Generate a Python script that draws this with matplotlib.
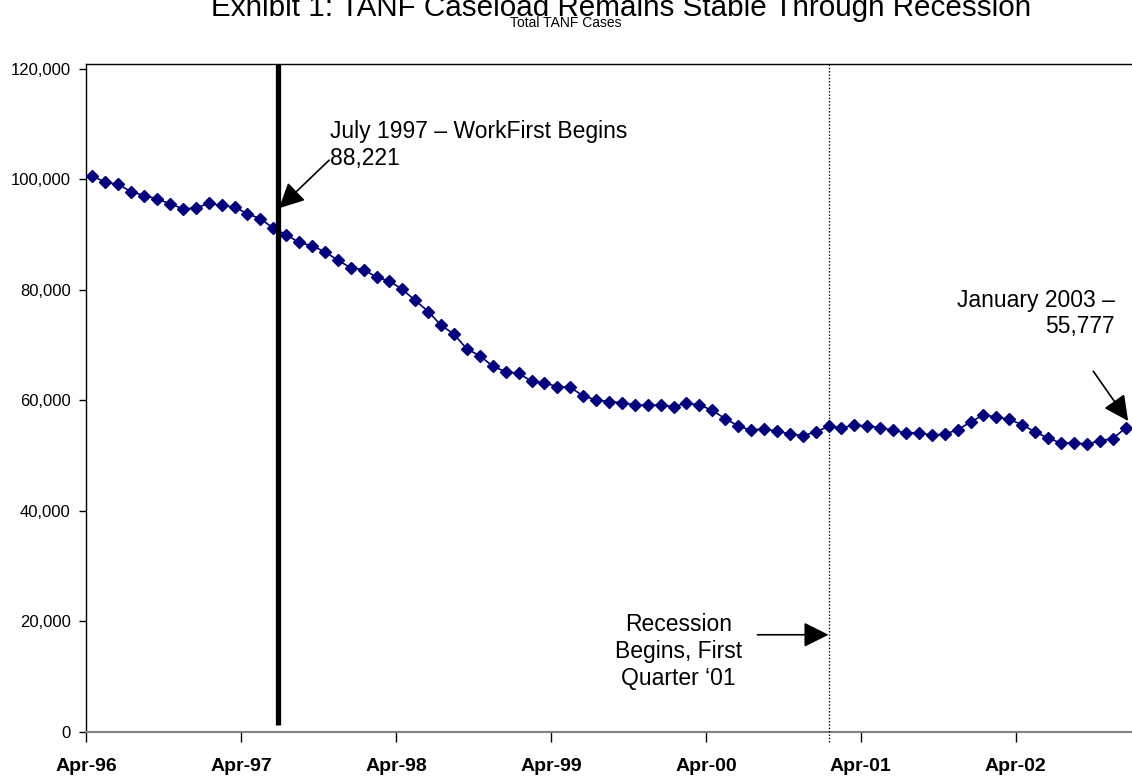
import numpy as np
import matplotlib.pyplot as plt
from matplotlib.ticker import FuncFormatter

plt.rcParams['font.family'] = ['Liberation Sans', 'DejaVu Sans']

# monthly TANF cases, Apr-96 .. Dec-02
cases = [
    100600, 99500, 99100, 97800, 97100, 96500, 95600, 94700, 94800, 95700,
    95300, 95000, 93800, 92900, 91200, 90000, 88600, 88000, 86900, 85400,
    84000, 83700, 82300, 81600, 80100, 78100, 76100, 73600, 72000, 69300,
    68100, 66200, 65200, 64900, 63500, 63200, 62500, 62400, 60800, 60100,
    59800, 59600, 59200, 59100, 59200, 58900, 59500, 59200, 58200, 56700,
    55400, 54600, 54900, 54400, 54000, 53600, 54300, 55300, 55100, 55500,
    55400, 55100, 54600, 54100, 54200, 53700, 53900, 54700, 56100, 57400,
    57000, 56600, 55600, 54300, 53200, 52300, 52300, 52100, 52700, 53100,
    55000,
]
tick_labels = ['Apr-96', 'Apr-97', 'Apr-98', 'Apr-99', 'Apr-00', 'Apr-01', 'Apr-02']
y_ticks = [0, 20000, 40000, 60000, 80000, 100000, 120000]

workfirst_pos = 14.33   # July 1997
recession_pos = 57      # first quarter 2001

x = np.arange(len(cases))

fig = plt.figure(figsize=(11.32, 7.77), dpi=100)
ax = fig.add_axes([86 / 1132, 1 - 732 / 777, 1 - 86 / 1132, (732 - 64) / 777])

ax.plot(x, cases, color='#000080', lw=1.2, marker='D', markersize=6,
        markerfacecolor='#000080', markeredgecolor='#000080', zorder=3)

ax.set_xlim(-0.5, len(cases) - 0.5)
ax.set_ylim(0, 120900)

ax.set_xticks(np.arange(len(tick_labels)) * 12 - 0.5)
ax.set_xticklabels(tick_labels, fontsize=14, fontweight='bold')
ax.set_yticks(y_ticks)
ax.yaxis.set_major_formatter(FuncFormatter(lambda v, p: f'{int(v):,}'))
ax.tick_params(axis='y', labelsize=12, length=5, width=1, pad=6)
ax.tick_params(axis='x', length=7, width=1, pad=12)

ax.spines['right'].set_visible(False)
for s in ['left', 'bottom', 'top']:
    ax.spines[s].set_linewidth(1.0)
ax.spines['bottom'].set_color('#808080')
ax.spines['bottom'].set_linewidth(1.5)

# event lines
ax.plot([workfirst_pos, workfirst_pos], [1300, 120900], color='black', lw=3.8,
        solid_capstyle='butt', zorder=4)
ax.plot([recession_pos, recession_pos], [-1800, 120900], color='black', lw=1.0,
        linestyle=(0, (1, 1.4)), clip_on=False, zorder=4)

arrow = dict(arrowstyle='-|>,head_length=0.7,head_width=0.35', mutation_scale=22,
             color='black', lw=1.2, shrinkA=0, shrinkB=0)

ax.annotate('', xy=(14.45, 94800), xytext=(18.33, 103500), arrowprops=arrow, zorder=5)
ax.text(18.36, 110700, 'July 1997 \u2013 WorkFirst Begins\n88,221', fontsize=16.5,
        ha='left', va='top', linespacing=1.2)

ax.annotate('', xy=(80.2, 56300), xytext=(77.5, 65300), arrowprops=arrow,
            annotation_clip=False, zorder=5)
ax.text(79.2, 80250, 'January 2003 \u2013\n55,777', fontsize=16.5,
        ha='right', va='top', multialignment='right', linespacing=1.2)

ax.annotate('', xy=(57.0, 17600), xytext=(51.5, 17600), arrowprops=arrow, zorder=5)
ax.text(45.4, 21450, 'Recession\nBegins, First\nQuarter \u201801', fontsize=16.5,
        ha='center', va='top', multialignment='center', linespacing=1.2)

fig.text(621 / 1132, 1 - 16 / 777,
         'Exhibit 1: TANF Caseload Remains Stable Through Recession',
         fontsize=21.3, ha='center', va='baseline')
fig.text(566 / 1132, 1 - 27 / 777, 'Total TANF Cases', fontsize=10,
         ha='center', va='baseline')

fig.savefig('out.png', dpi=100)
